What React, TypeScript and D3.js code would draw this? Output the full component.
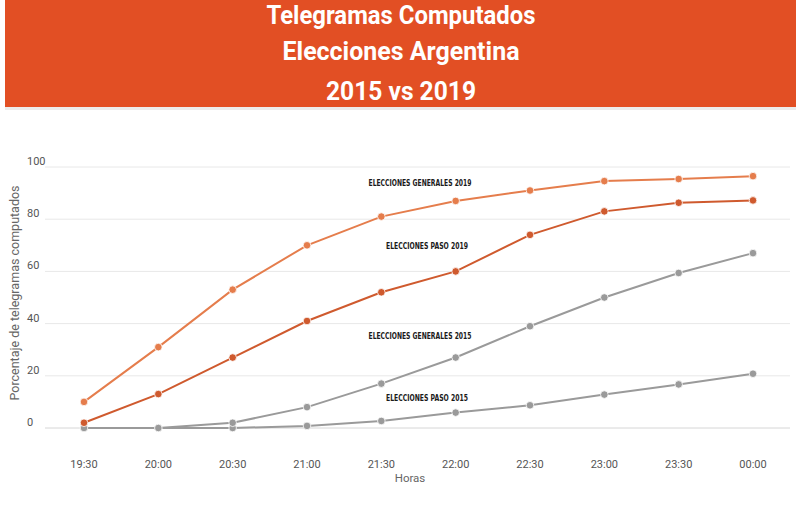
import React, { useEffect, useRef } from 'react';
import * as d3 from 'd3';

const horas = ['19:30', '20:00', '20:30', '21:00', '21:30', '22:00', '22:30', '23:00', '23:30', '00:00'];
const yTicks = [0, 20, 40, 60, 80, 100];

const generales2019 = [10, 31, 53, 70, 81, 87, 91, 94.6, 95.4, 96.5];
const paso2019 = [2, 13, 27, 41, 52, 60, 74, 83, 86.3, 87.2];
const generales2015 = [0, 0, 2, 8, 17, 27, 39, 50, 59.4, 67];
const paso2015 = [0, 0, 0, 0.8, 2.7, 5.9, 8.7, 12.8, 16.7, 20.8];

const titleLines = ['Telegramas Computados', 'Elecciones Argentina', '2015 vs 2019'];

const series = [
  { name: 'ELECCIONES PASO 2015', values: paso2015, color: '#9a9a9a', labelAt: 11.5 },
  { name: 'ELECCIONES GENERALES 2015', values: generales2015, color: '#9a9a9a', labelAt: 35.2 },
  { name: 'ELECCIONES PASO 2019', values: paso2019, color: '#cf5a2e', labelAt: 69.7 },
  { name: 'ELECCIONES GENERALES 2019', values: generales2019, color: '#e57d4c', labelAt: 93.9 },
];

const App = () => {
  const svgRef = useRef<SVGSVGElement>(null);
  const width = 800;
  const height = 506;

  useEffect(() => {
    const svg = d3.select(svgRef.current);
    svg.selectAll('*').remove();

    // Banner
    svg.append('rect').attr('x', 5).attr('y', 2).attr('width', 791).attr('height', 108).attr('fill', '#ececec');
    svg.append('rect').attr('x', 5).attr('y', 0).attr('width', 791).attr('height', 107).attr('fill', '#e24f24');

    const titleWidths = [269, 237, 150];
    const titleBase = [24, 60, 100];
    titleLines.forEach((t, i) => {
      svg.append('text')
        .attr('x', 401)
        .attr('y', titleBase[i])
        .attr('text-anchor', 'middle')
        .attr('fill', 'white')
        .attr('font-family', 'Roboto, sans-serif')
        .attr('font-weight', 'bold')
        .attr('font-size', 25)
        .attr('textLength', titleWidths[i])
        .attr('lengthAdjust', 'spacingAndGlyphs')
        .text(t);
    });

    // Scales
    const x = d3.scalePoint<string>().domain(horas).range([84, 753]);
    const y = d3.scaleLinear().domain([0, 100]).range([428, 167]);

    // Grid + y labels
    const grid = svg.append('g');
    yTicks.forEach(v => {
      grid.append('line')
        .attr('x1', 45).attr('x2', 790)
        .attr('y1', y(v)).attr('y2', y(v))
        .attr('stroke', v === 0 ? '#d6d6d6' : '#e8e8e8')
        .attr('stroke-width', 1);
      grid.append('text')
        .attr('x', 27)
        .attr('y', y(v) - 2)
        .attr('fill', '#555')
        .attr('font-family', 'Roboto, sans-serif')
        .attr('font-size', 11)
        .text(v);
    });

    // X labels
    horas.forEach(h => {
      svg.append('text')
        .attr('x', x(h)!)
        .attr('y', 468)
        .attr('text-anchor', 'middle')
        .attr('fill', '#555')
        .attr('font-family', 'Roboto, sans-serif')
        .attr('font-size', 11)
        .text(h);
    });

    svg.append('text')
      .attr('x', 410).attr('y', 482)
      .attr('text-anchor', 'middle')
      .attr('fill', '#666')
      .attr('font-family', 'Roboto, sans-serif')
      .attr('font-size', 11.5)
      .text('Horas');

    svg.append('text')
      .attr('transform', 'translate(19,293) rotate(-90)')
      .attr('text-anchor', 'middle')
      .attr('fill', '#666')
      .attr('font-family', 'Roboto, sans-serif')
      .attr('font-size', 12.5)
      .text('Porcentaje de telegramas computados');

    // Lines
    const line = d3.line<number>()
      .x((_, i) => x(horas[i])!)
      .y(d => y(d));

    series.forEach(s => {
      svg.append('path')
        .datum(s.values)
        .attr('fill', 'none')
        .attr('stroke', s.color)
        .attr('stroke-width', 2)
        .attr('d', line);
      svg.append('g').selectAll('circle')
        .data(s.values)
        .enter().append('circle')
        .attr('cx', (_, i) => x(horas[i])!)
        .attr('cy', d => y(d))
        .attr('r', 3.8)
        .attr('fill', s.color)
        .attr('stroke', 'white')
        .attr('stroke-width', 0.8);
    });

    // Series labels
    series.forEach(s => {
      const isGen = s.name.includes('GENERALES');
      svg.append('text')
        .attr('x', isGen ? 420 : 427)
        .attr('y', y(s.labelAt) + 3)
        .attr('text-anchor', 'middle')
        .attr('fill', '#1a1a1a')
        .attr('font-family', '"DejaVu Sans Condensed", "DejaVu Sans", sans-serif')
        .attr('font-weight', 'bold')
        .attr('font-size', 8)
        .attr('textLength', isGen ? 103 : 82)
        .attr('lengthAdjust', 'spacingAndGlyphs')
        .text(s.name);
    });
  }, []);

  return (
    <svg
      ref={svgRef}
      width={width}
      height={height}
      style={{ position: 'absolute', left: 0, top: 0, background: 'white', display: 'block' }}
    />
  );
};

export default App;
